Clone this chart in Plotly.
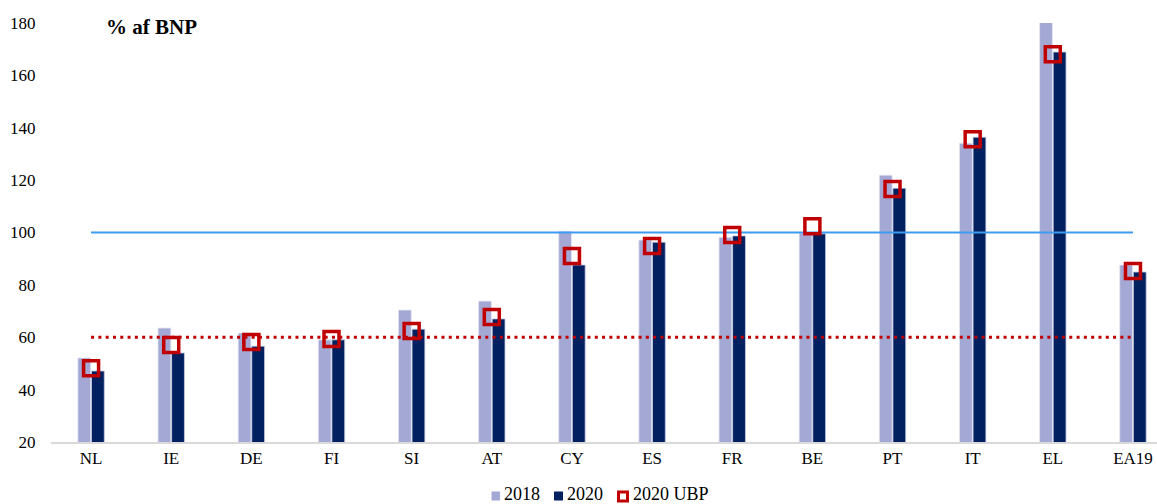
import plotly.graph_objects as go

categories = ["NL", "IE", "DE", "FI", "SI", "AT", "CY", "ES", "FR", "BE", "PT", "IT", "EL", "EA19"]
debt_2018 = [52.1, 63.5, 61.6, 59.0, 70.4, 73.8, 100.5, 97.1, 98.2, 99.8, 121.9, 134.1, 181.2, 87.6]
debt_2020 = [47.1, 54.0, 56.6, 59.0, 63.1, 67.0, 87.6, 96.3, 98.7, 99.5, 116.9, 136.4, 168.9, 84.9]
debt_2020_ubp = [48.2, 57.0, 58.2, 59.3, 62.4, 67.7, 91.0, 94.8, 99.0, 102.4, 116.6, 135.6, 168.1, 85.3]
series_names = ["2018", "2020", "2020 UBP"]
ref_100 = [100, 100]
ref_60 = [60, 60]
ref_x = [categories[0], categories[-1]]

FONT = "Liberation Serif, Times New Roman, serif"
C2018 = "#A3A8D5"
C2020 = "#002060"
CUBP = "#C00000"

fig = go.Figure()
fig.add_trace(go.Bar(x=categories, y=debt_2018, name=series_names[0], showlegend=False,
                     marker=dict(color=C2018, line=dict(color="#E6E7F3", width=0.8))))
fig.add_trace(go.Bar(x=categories, y=debt_2020, name=series_names[1], showlegend=False,
                     marker=dict(color=C2020, line=dict(color="#C9CCE3", width=0.8))))
fig.add_trace(go.Scatter(x=ref_x, y=ref_100, mode="lines", showlegend=False,
                         line=dict(color="#3D9BF0", width=2.2), hoverinfo="skip"))
fig.add_trace(go.Scatter(x=ref_x, y=ref_60, mode="lines", showlegend=False,
                         line=dict(color=CUBP, width=3, dash="3px,4.3px"), hoverinfo="skip"))
fig.add_trace(go.Scatter(x=categories, y=debt_2020_ubp, mode="markers", name=series_names[2],
                         showlegend=False,
                         marker=dict(symbol="square-open", size=15, color=CUBP,
                                     line=dict(width=3.5, color=CUBP))))

# compact legend (symbols as shapes, labels as annotations), placed below the axis
W, H, L, T, B = 1157, 504, 51, 23, 62
PW, PH = W - L, H - T - B
def px(x):
    return (x - L) / PW
def py(y):
    return (H - B - y) / PH

shapes = [
    dict(type="rect", xref="paper", yref="paper", x0=px(491.5), x1=px(500), y0=py(500.5), y1=py(491.5),
         fillcolor=C2018, line=dict(width=0)),
    dict(type="rect", xref="paper", yref="paper", x0=px(554), x1=px(563), y0=py(500.5), y1=py(491.5),
         fillcolor=C2020, line=dict(width=0)),
    dict(type="rect", xref="paper", yref="paper", x0=px(618.5), x1=px(627.5), y0=py(501), y1=py(492),
         fillcolor="white", line=dict(color=CUBP, width=3)),
]
legend_text_x = [503, 566, 632]
annotations = [dict(text=name, xref="paper", yref="paper", x=px(lx), y=py(493.5),
                    xanchor="left", yanchor="middle", showarrow=False, borderpad=0,
                    font=dict(family=FONT, size=18, color="#000000"))
               for name, lx in zip(series_names, legend_text_x)]
annotations.append(dict(text="<b>% af BNP</b>", xref="paper", yref="paper",
                        x=px(104), y=py(27), xanchor="left", yanchor="middle", showarrow=False,
                        font=dict(family=FONT, size=21, color="#000000")))

fig.update_layout(
    width=W, height=H,
    margin=dict(l=L, r=0, t=T, b=B, autoexpand=False),
    paper_bgcolor="white", plot_bgcolor="white",
    barmode="group", bargap=0.66, bargroupgap=0.06,
    font=dict(family=FONT, size=17, color="#000000"),
    showlegend=False,
    shapes=shapes,
    annotations=annotations,
)
fig.update_xaxes(range=[-0.5, 13.3], showgrid=False, showline=True, linecolor="#D9D9D9",
                 linewidth=1.5, ticks="", automargin=False, tickfont=dict(family=FONT, size=17))
fig.update_yaxes(range=[20, 180], dtick=20, showgrid=False, zeroline=False, showline=False,
                 ticks="outside", ticklen=11, tickcolor="rgba(0,0,0,0)", automargin=False,
                 tickfont=dict(family=FONT, size=17))

fig.write_html("out.html", config={"displayModeBar": False},
               post_script="document.body.style.margin='0';document.body.style.overflow='hidden';")
